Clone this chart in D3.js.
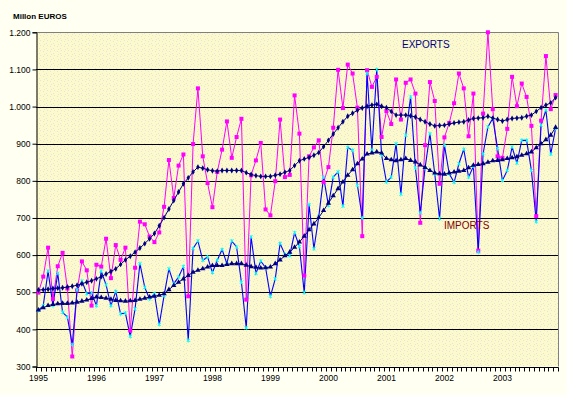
<!DOCTYPE html>
<html>
<head>
<meta charset="utf-8">
<script src="https://cdn.jsdelivr.net/npm/d3@7"></script>
<style>
body { margin: 0; background: #FFFFF2; }
svg { display: block; font-family: "Liberation Sans", Arial, sans-serif; }
</style>
</head>
<body>
<svg id="chart" width="567" height="395"></svg>
<script>
// year labels, one per 12 monthly categories
const years = ['1995', '1996', '1997', '1998', '1999', '2000', '2001', '2002', '2003'];
const yTicks = [300, 400, 500, 600, 700, 800, 900, 1000, 1100, 1200];

// monthly values, million euros
const exportValues = [
  499, 542, 620, 482, 570, 606, 510, 327, 505, 583, 559, 464,
  574, 569, 644, 538, 627, 587, 620, 397, 566, 690, 683, 650,
  635, 661, 730, 856, 754, 841, 871, 489, 899, 1049, 866, 794,
  729, 824, 884, 960, 862, 918, 967, 480, 815, 855, 902, 723,
  707, 799, 965, 810, 816, 1030, 927, 545, 866, 890, 909, 797,
  837, 943, 1099, 996, 1113, 1089, 997, 651, 1098, 1053, 1080, 918,
  988, 953, 1073, 965, 1064, 1073, 1035, 687, 896, 1066, 1015, 792,
  917, 956, 1009, 1089, 1049, 920, 1035, 612, 981, 1200, 993, 866,
  862, 940, 1080, 1001, 1062, 1026, 948, 705, 962, 1136, 993, 1031
];
const importValues = [
  451, 464, 557, 464, 551, 446, 433, 359, 506, 530, 496, 498,
  464, 557, 520, 464, 502, 442, 444, 381, 455, 577, 513, 482,
  496, 413, 491, 563, 523, 541, 569, 370, 618, 638, 586, 595,
  553, 586, 615, 577, 638, 622, 527, 404, 649, 551, 584, 566,
  489, 536, 631, 602, 599, 660, 623, 499, 736, 617, 703, 810,
  734, 810, 824, 732, 890, 882, 788, 700, 1089, 882, 1100, 870,
  797, 810, 900, 764, 923, 1026, 835, 714, 835, 927, 819, 698,
  896, 819, 796, 846, 885, 810, 839, 608, 873, 945, 968, 887,
  801, 828, 891, 848, 909, 909, 828, 690, 950, 990, 872, 941
];
const exportTrend = [
  506, 507, 508, 510, 511, 512, 514, 516, 519, 523, 527, 531,
  536, 542, 549, 556, 563, 575, 587, 597, 608, 619, 631, 644,
  658, 679, 701, 724, 747, 770, 792, 808, 824, 837, 834, 830,
  827, 826, 828, 828, 828, 828, 828, 822, 817, 814, 812, 812,
  812, 815, 818, 823, 828, 841, 854, 859, 863, 869, 876, 892,
  909, 926, 943, 959, 974, 982, 990, 996, 1001, 1004, 1006, 1001,
  997, 987, 977, 977, 977, 975, 972, 965, 959, 953, 948, 949,
  950, 953, 956, 958, 959, 964, 968, 969, 970, 974, 969, 965,
  961, 965, 968, 969, 970, 974, 977, 987, 997, 1004, 1010, 1024
];
const importTrend = [
  452, 458, 464, 467, 469, 470, 470, 471, 473, 476, 479, 483,
  487, 486, 484, 481, 478, 477, 476, 477, 478, 481, 484, 487,
  489, 492, 496, 507, 518, 527, 536, 545, 554, 559, 563, 568,
  572, 572, 572, 575, 577, 577, 577, 573, 569, 567, 565, 566,
  568, 577, 587, 598, 608, 621, 635, 651, 668, 684, 701, 720,
  740, 760, 779, 797, 815, 830, 846, 859, 872, 875, 878, 875,
  860, 857, 854, 857, 860, 855, 851, 843, 836, 828, 821, 819,
  818, 821, 824, 826, 828, 835, 842, 844, 846, 850, 854, 855,
  857, 860, 862, 865, 869, 873, 878, 889, 900, 911, 923, 944
];

const svg = d3.select('#chart');
const plotL = 36, plotR = 558, plotT = 32.3, plotB = 366.5;

const x = d3.scaleBand()
  .domain(d3.range(exportValues.length))
  .range([plotL, plotR]);
const y = d3.scaleLinear().domain([300, 1200]).range([plotB, plotT]);
const cx = i => x(i) + x.bandwidth() / 2;

const fmt = d3.formatLocale({ decimal: ',', thousands: '.', grouping: [3], currency: ['', ''] }).format(',d');

// plot background with a light speckle
const defs = svg.append('defs');
const pat = defs.append('pattern')
  .attr('id', 'speck').attr('width', 7).attr('height', 5)
  .attr('patternUnits', 'userSpaceOnUse');
pat.append('rect').attr('width', 7).attr('height', 5).attr('fill', '#FCF9CC');
[[1, 1], [4, 3], [2, 4], [5, 0]].forEach(p => {
  pat.append('rect').attr('x', p[0]).attr('y', p[1]).attr('width', 1).attr('height', 1).attr('fill', '#E6E4D4');
});
svg.append('rect')
  .attr('x', plotL).attr('y', plotT)
  .attr('width', plotR - plotL).attr('height', plotB - plotT)
  .attr('fill', 'url(#speck)');

// gridlines
svg.append('g').selectAll('line')
  .data(yTicks.filter(v => v > 300 && v < 1200))
  .join('line')
  .attr('x1', plotL).attr('x2', plotR)
  .attr('y1', d => Math.round(y(d)) + 0.5).attr('y2', d => Math.round(y(d)) + 0.5)
  .attr('stroke', '#000').attr('stroke-width', 1);

// gray frame top and right
svg.append('path')
  .attr('d', `M${plotL},${Math.round(plotT) + 0.5}H${plotR + 0.5}V${plotB}`)
  .attr('fill', 'none').attr('stroke', '#808080');

// y axis
const yAxis = d3.axisLeft(y).tickValues(yTicks).tickSize(4).tickFormat(fmt);
svg.append('g')
  .attr('transform', `translate(${plotL + 0.5},0)`)
  .call(yAxis)
  .call(g => g.select('.domain').attr('stroke', '#000'))
  .call(g => g.selectAll('line').attr('stroke', '#000'))
  .call(g => g.selectAll('text').attr('font-size', 8.5).attr('fill', '#000')
    .attr('font-family', '"Liberation Sans", Arial, sans-serif').attr('x', -6));

// x axis: monthly tick marks and yearly labels
const xg = svg.append('g');
xg.append('line')
  .attr('x1', plotL).attr('x2', plotR + 0.5)
  .attr('y1', Math.round(plotB) + 0.5).attr('y2', Math.round(plotB) + 0.5)
  .attr('stroke', '#000');
xg.selectAll('line.tk')
  .data(d3.range(exportValues.length + 1))
  .join('line')
  .attr('class', 'tk')
  .attr('x1', i => Math.round(plotL + i * x.step()) + 0.5)
  .attr('x2', i => Math.round(plotL + i * x.step()) + 0.5)
  .attr('y1', Math.round(plotB) + 0.5).attr('y2', Math.round(plotB) + 4.5)
  .attr('stroke', '#000');
xg.selectAll('text')
  .data(years)
  .join('text')
  .attr('x', (d, k) => cx(k * 12))
  .attr('y', 381)
  .attr('text-anchor', 'middle')
  .attr('font-size', 8.5)
  .text(d => d);

const line = d3.line().x((d, i) => cx(i)).y(d => y(d));

// exports
svg.append('path').datum(exportValues)
  .attr('d', line).attr('fill', 'none').attr('stroke', '#FF00FF').attr('stroke-width', 1);
// imports
svg.append('path').datum(importValues)
  .attr('d', line).attr('fill', 'none').attr('stroke', '#0000FF').attr('stroke-width', 1.1);

svg.append('g').selectAll('rect')
  .data(exportValues)
  .join('rect')
  .attr('x', (d, i) => cx(i) - 2).attr('y', d => y(d) - 2)
  .attr('width', 4).attr('height', 4)
  .attr('fill', '#FF00FF');

svg.append('g').selectAll('path')
  .data(importValues)
  .join('path')
  .attr('transform', (d, i) => `translate(${cx(i)},${y(d)})`)
  .attr('d', 'M-1.5,-1.5L1.5,1.5M-1.5,1.5L1.5,-1.5M0,-2V2')
  .attr('stroke', '#00FFFF').attr('stroke-width', 1);

// trend lines
svg.append('path').datum(exportTrend)
  .attr('d', line).attr('fill', 'none').attr('stroke', '#000080').attr('stroke-width', 1);
svg.append('path').datum(importTrend)
  .attr('d', line).attr('fill', 'none').attr('stroke', '#000080').attr('stroke-width', 1);

const diamond = d3.symbol().type(d3.symbolDiamond).size(10);
svg.append('g').selectAll('path')
  .data(exportTrend)
  .join('path')
  .attr('transform', (d, i) => `translate(${cx(i)},${y(d)})`)
  .attr('d', diamond)
  .attr('fill', '#000080');

const tri = d3.symbol().type(d3.symbolTriangle).size(12);
svg.append('g').selectAll('path')
  .data(importTrend)
  .join('path')
  .attr('transform', (d, i) => `translate(${cx(i)},${y(d)})`)
  .attr('d', tri)
  .attr('fill', '#000080');

// labels
svg.append('text').attr('x', 13).attr('y', 19)
  .attr('font-size', 8).attr('font-weight', 'bold').text('Millon EUROS');
svg.append('text').attr('x', 402).attr('y', 48)
  .attr('font-size', 10).attr('fill', '#000080').text('EXPORTS');
svg.append('text').attr('x', 444).attr('y', 229)
  .attr('font-size', 10).attr('fill', '#800000').text('IMPORTS');
</script>
</body>
</html>
